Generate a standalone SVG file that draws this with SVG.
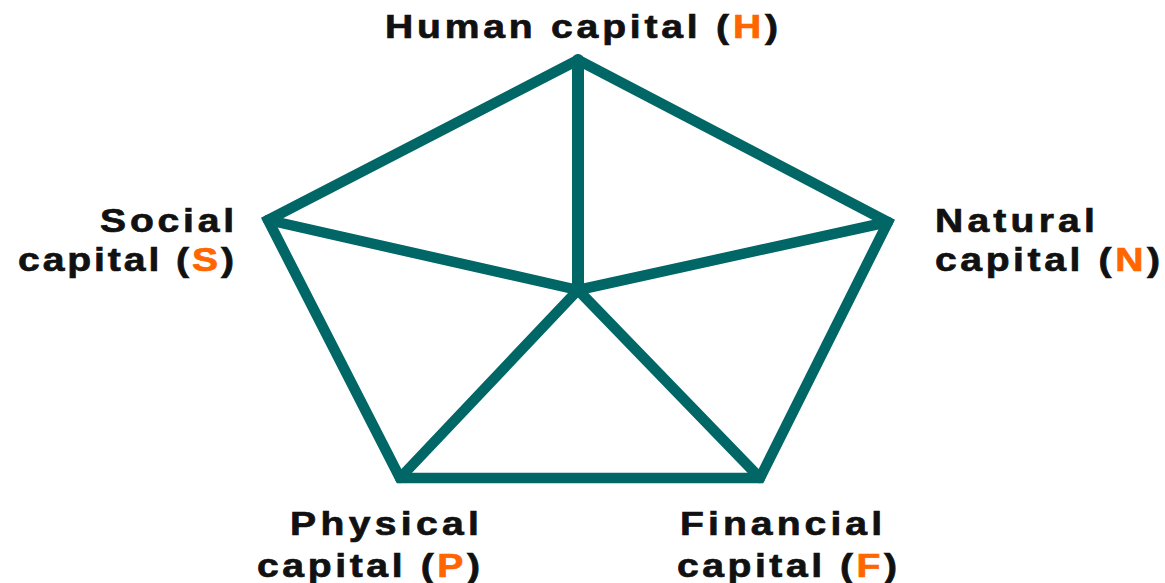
<svg xmlns="http://www.w3.org/2000/svg" width="1165" height="583" viewBox="0 0 1165 583">
<style>
.lbl{font-family:"Liberation Sans",Arial,sans-serif;font-weight:bold;font-size:34px;fill:#111;stroke:#111;stroke-width:0.7}
.hl{fill:#ff6600;stroke:#ff6600}
.edge{stroke:#006666;stroke-width:10.5;fill:none;stroke-linejoin:miter;stroke-linecap:round}
</style>
<rect width="1165" height="583" fill="#ffffff"/>
<g id="connectors">
<polygon class="edge" points="578,60 888,222 760,478 400,478 268,220"/>
<line class="edge" x1="578" y1="60" x2="578" y2="290" style="stroke-width:12"/>
<line class="edge" x1="268" y1="220" x2="578" y2="290"/>
<line class="edge" x1="888" y1="222" x2="578" y2="290"/>
<line class="edge" x1="400" y1="478" x2="578" y2="290"/>
<line class="edge" x1="760" y1="478" x2="578" y2="290"/>
</g>
<g id="node-H" transform="scale(1.15,1)">
<text class="lbl" x="334.8" y="38" textLength="341.7" lengthAdjust="spacing">Human capital (<tspan class="hl">H</tspan>)</text>
</g>
<g id="node-S" transform="scale(1.15,1)">
<text class="lbl" x="87" y="232" textLength="116.5" lengthAdjust="spacing">Social</text>
<text class="lbl" x="15.65" y="271" textLength="187.8" lengthAdjust="spacing">capital (<tspan class="hl">S</tspan>)</text>
</g>
<g id="node-N" transform="scale(1.15,1)">
<text class="lbl" x="813" y="232" textLength="139.1" lengthAdjust="spacing">Natural</text>
<text class="lbl" x="813" y="271" textLength="195.7" lengthAdjust="spacing">capital (<tspan class="hl">N</tspan>)</text>
</g>
<g id="node-P" transform="scale(1.15,1)">
<text class="lbl" x="252.2" y="535" textLength="164.3" lengthAdjust="spacing">Physical</text>
<text class="lbl" x="223.5" y="577" textLength="193.9" lengthAdjust="spacing">capital (<tspan class="hl">P</tspan>)</text>
</g>
<g id="node-F" transform="scale(1.15,1)">
<text class="lbl" x="591.3" y="535" textLength="175.7" lengthAdjust="spacing">Financial</text>
<text class="lbl" x="588.7" y="577" textLength="191.3" lengthAdjust="spacing">capital (<tspan class="hl">F</tspan>)</text>
</g>
</svg>
